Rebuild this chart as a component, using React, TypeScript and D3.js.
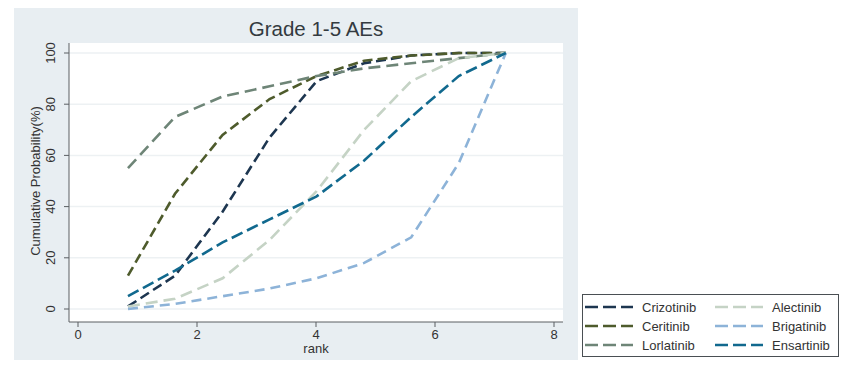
import React from 'react';
import * as d3 from 'd3';

const ranks = [0.84, 1.63, 2.43, 3.22, 4.01, 4.81, 5.6, 6.4, 7.19];
const crizotinib = [1, 13, 38, 67, 89, 96, 99, 100, 100];
const ceritinib = [13, 45, 68, 82, 91, 97, 99, 100, 100];
const lorlatinib = [55, 75, 83, 87, 91, 94, 96, 98, 100];
const alectinib = [1, 4, 12, 27, 46, 70, 89, 98, 100];
const brigatinib = [0, 2, 5, 8, 12, 18, 28, 57, 100];
const ensartinib = [5, 15, 26, 35, 44, 58, 75, 91, 100];

const xTicks = [0, 2, 4, 6, 8];
const yTicks = [0, 20, 40, 60, 80, 100];

const series = [
  { name: 'Crizotinib', values: crizotinib, color: '#1d3650', dash: '10,5' },
  { name: 'Ceritinib', values: ceritinib, color: '#4e5b2c', dash: '10,5' },
  { name: 'Lorlatinib', values: lorlatinib, color: '#6e8577', dash: '12,6' },
  { name: 'Alectinib', values: alectinib, color: '#c5d3c5', dash: '12,6' },
  { name: 'Brigatinib', values: brigatinib, color: '#8db3d8', dash: '10,6' },
  { name: 'Ensartinib', values: ensartinib, color: '#11698e', dash: '12,5' },
];

const App = () => {
  const plot = { left: 69, right: 563, top: 43, bottom: 322 };
  const x = d3.scaleLinear().domain([0, 8]).range([78, 554]);
  const y = d3.scaleLinear().domain([0, 100]).range([309, 53]);

  const line = d3.line<number>()
    .x((d, i) => x(ranks[i]))
    .y(d => y(d));

  const font = 'Liberation Sans, Arial, sans-serif';

  return (
    <svg width={842} height={366} style={{ position: 'absolute', left: 0, top: 0 }} fontFamily={font}>
      <rect x={0} y={0} width={842} height={366} fill="#ffffff" />
      {/* outer graph region */}
      <rect x={14} y={8} width={564} height={352} fill="#e8eef2" />
      <rect x={plot.left} y={plot.top} width={plot.right - plot.left} height={plot.bottom - plot.top} fill="#ffffff" />

      {/* grid */}
      {yTicks.map(t => (
        <line key={'g' + t} x1={plot.left} x2={plot.right} y1={y(t)} y2={y(t)} stroke="#edf1f3" strokeWidth={1.5} />
      ))}

      <text x={(plot.left + plot.right) / 2} y={36} textAnchor="middle" fontSize={20.5} fill="#333a40">Grade 1-5 AEs</text>

      {/* y axis */}
      <line x1={plot.left} x2={plot.left} y1={plot.top} y2={plot.bottom} stroke="#5a5f63" strokeWidth={1} />
      {yTicks.map(t => (
        <g key={'y' + t}>
          <line x1={plot.left - 5} x2={plot.left} y1={y(t)} y2={y(t)} stroke="#5a5f63" />
          <text transform={`translate(55,${y(t)}) rotate(-90)`} textAnchor="middle" fontSize={13} fill="#333">{t}</text>
        </g>
      ))}
      <text transform={`translate(40,${(y(0) + y(100)) / 2}) rotate(-90)`} textAnchor="middle" fontSize={13} fill="#333">
        Cumulative Probability(%)
      </text>

      {/* x axis */}
      <line x1={plot.left} x2={plot.right} y1={plot.bottom} y2={plot.bottom} stroke="#5a5f63" strokeWidth={1} />
      {xTicks.map(t => (
        <g key={'x' + t}>
          <line x1={x(t)} x2={x(t)} y1={plot.bottom} y2={plot.bottom + 5} stroke="#5a5f63" />
          <text x={x(t)} y={339} textAnchor="middle" fontSize={13} fill="#333">{t}</text>
        </g>
      ))}
      <text x={(plot.left + plot.right) / 2} y={353} textAnchor="middle" fontSize={13} fill="#333">rank</text>

      {/* lines */}
      {series.map(s => (
        <path key={s.name} d={line(s.values) || ''} fill="none" stroke={s.color} strokeWidth={2.6} strokeDasharray={s.dash} />
      ))}

      {/* legend */}
      <rect x={582.5} y={294.5} width={256} height={62} fill="#ffffff" stroke="#4a4f53" strokeWidth={1} />
      {series.map((s, i) => {
        const col = Math.floor(i / 3);
        const row = i % 3;
        const lx = col === 0 ? 585 : 715;
        const ly = 307 + row * 19;
        return (
          <g key={'l' + s.name}>
            <line x1={lx} x2={lx + 48} y1={ly} y2={ly} stroke={s.color} strokeWidth={2.6} strokeDasharray="13,5" />
            <text x={lx + 57} y={ly + 4.5} fontSize={13} fill="#333">{s.name}</text>
          </g>
        );
      })}
    </svg>
  );
};

export default App;
